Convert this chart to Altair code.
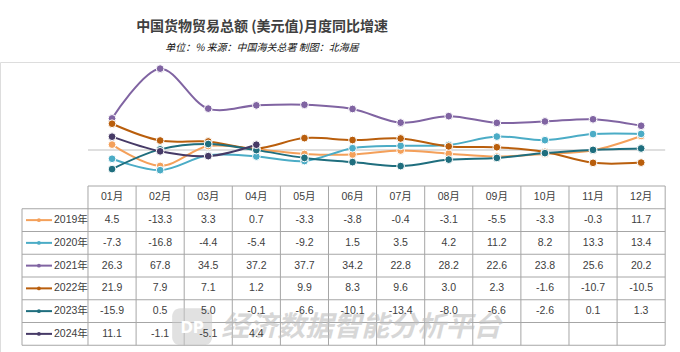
import altair as alt
import pandas as pd

months = ["01月", "02月", "03月", "04月", "05月", "06月", "07月", "08月", "09月", "10月", "11月", "12月"]
years = ["2019年", "2020年", "2021年", "2022年", "2023年", "2024年"]
v2019 = [4.5, -13.3, 3.3, 0.7, -3.3, -3.8, -0.4, -3.1, -5.5, -3.3, -0.3, 11.7]
v2020 = [-7.3, -16.8, -4.4, -5.4, -9.2, 1.5, 3.5, 4.2, 11.2, 8.2, 13.3, 13.4]
v2021 = [26.3, 67.8, 34.5, 37.2, 37.7, 34.2, 22.8, 28.2, 22.6, 23.8, 25.6, 20.2]
v2022 = [21.9, 7.9, 7.1, 1.2, 9.9, 8.3, 9.6, 3.0, 2.3, -1.6, -10.7, -10.5]
v2023 = [-15.9, 0.5, 5.0, -0.1, -6.6, -10.1, -13.4, -8.0, -6.6, -2.6, 0.1, 1.3]
v2024 = [11.1, -1.1, -5.1, 4.4]
series = [v2019, v2020, v2021, v2022, v2023, v2024]
colors = ["#F4A05A", "#4BACC6", "#8064A2", "#B95E0C", "#1F6E7E", "#463A66"]

title = "中国货物贸易总额 (美元值)月度同比增速"
subtitle = "单位：% 来源：中国海关总署 制图：北海居"
watermark = "经济数据智能分析平台"

# ---- data tables ----
rows = []
for yi, (yr, vals) in enumerate(zip(years, series)):
    for i, v in enumerate(vals):
        rows.append({"year": yr, "i": i, "v": v, "s": f"{v:.1f}", "r": yi + 1.5})
df = pd.DataFrame(rows)
header_df = pd.DataFrame({"i": list(range(12)), "month": months, "r": [0.5] * 12})

LABEL_LEFT = -1.872   # left edge of row-label column (in month-index units)
n_rows = len(years) + 1
hl_df = pd.DataFrame({
    "r": list(range(n_rows + 1)),
    "x0": [-0.5] + [LABEL_LEFT] * n_rows,
    "x1": [11.5] * (n_rows + 1),
})
vl_df = pd.DataFrame({
    "x": [LABEL_LEFT] + [k - 0.5 for k in range(13)],
    "r0": [1] + [0] * 13,
    "r1": [n_rows] * 14,
})
key_df = pd.DataFrame({"year": years, "r": [k + 1.5 for k in range(len(years))],
                       "k0": -1.789, "k1": -1.248, "kc": -1.52, "tx": -1.207})

X = alt.Scale(domain=[-2.3295, 11.808], range=[0, 680], nice=False, zero=False)
YV = alt.Scale(domain=[-20, 70], range=[112, 4], nice=False, zero=False)
YT = alt.Scale(domain=[0, 7], range=[124, 283.25], nice=False, zero=False)
C = alt.Scale(domain=years, range=colors)

FONT_NUM = "Liberation Sans Narrow, Arial Narrow, Liberation Sans, Noto Sans CJK SC, sans-serif"
FONT_CJK = "Noto Sans CJK SC, sans-serif"

# ---- line chart ----
zero = alt.Chart(pd.DataFrame({"a": [-0.5], "b": [11.5], "y": [0]})).mark_rule(
    color="#BFBFBF", strokeWidth=1
).encode(
    x=alt.X("a:Q", scale=X, axis=None), x2="b:Q",
    y=alt.Y("y:Q", scale=YV, axis=None),
)
base = alt.Chart(df).encode(
    x=alt.X("i:Q", scale=X, axis=None),
    y=alt.Y("v:Q", scale=YV, axis=None),
    color=alt.Color("year:N", scale=C, legend=None),
)
lines = base.mark_line(interpolate="catmull-rom", strokeWidth=2)
points = base.mark_circle(size=60, opacity=1, stroke="white", strokeWidth=1)
top = alt.layer(zero, lines, points)

# ---- table ----
hl = alt.Chart(hl_df).mark_rule(color="#A6A6A6", strokeWidth=1).encode(
    x=alt.X("x0:Q", scale=X, axis=None), x2="x1:Q",
    y=alt.Y("r:Q", scale=YT, axis=None),
)
vl = alt.Chart(vl_df).mark_rule(color="#A6A6A6", strokeWidth=1).encode(
    x=alt.X("x:Q", scale=X, axis=None),
    y=alt.Y("r0:Q", scale=YT, axis=None), y2="r1:Q",
)
keys = alt.Chart(key_df).mark_rule(strokeWidth=2).encode(
    x=alt.X("k0:Q", scale=X, axis=None), x2="k1:Q",
    y=alt.Y("r:Q", scale=YT, axis=None),
    color=alt.Color("year:N", scale=C, legend=None),
)
keypts = alt.Chart(key_df).mark_circle(size=14, opacity=1).encode(
    x=alt.X("kc:Q", scale=X, axis=None),
    y=alt.Y("r:Q", scale=YT, axis=None),
    color=alt.Color("year:N", scale=C, legend=None),
)
labels = alt.Chart(key_df).mark_text(align="left", baseline="middle", fontSize=10.5,
                                     font=FONT_NUM, color="#404040").encode(
    x=alt.X("tx:Q", scale=X, axis=None),
    y=alt.Y("r:Q", scale=YT, axis=None),
    text="year:N",
)
header = alt.Chart(header_df).mark_text(baseline="middle", fontSize=10.5, font=FONT_NUM,
                                        color="#404040").encode(
    x=alt.X("i:Q", scale=X, axis=None),
    y=alt.Y("r:Q", scale=YT, axis=None),
    text="month:N",
)
cells = alt.Chart(df).mark_text(baseline="middle", fontSize=10.5, font=FONT_NUM,
                                color="#404040").encode(
    x=alt.X("i:Q", scale=X, axis=None),
    y=alt.Y("r:Q", scale=YT, axis=None),
    text="s:N",
)
wm_df = pd.DataFrame({"t": [watermark], "x": [5.18], "y": [6.22],
                      "lx0": [1.25], "lx1": [2.08], "ly0": [5.37], "ly1": [7.0], "lx": [1.665], "logo": ["DP"]})
wm_logo = alt.Chart(wm_df).mark_rect(color="#C8C8C8", opacity=0.55, cornerRadius=8).encode(
    x=alt.X("lx0:Q", scale=X, axis=None), x2="lx1:Q",
    y=alt.Y("ly0:Q", scale=YT, axis=None), y2="ly1:Q",
)
wm_logo_t = alt.Chart(wm_df).mark_text(color="white", fontSize=15, fontWeight="bold",
                                       font="DejaVu Sans", baseline="middle").encode(
    x=alt.X("lx:Q", scale=X, axis=None),
    y=alt.Y("y:Q", scale=YT, axis=None),
    text="logo:N",
)
wm_text = alt.Chart(wm_df).mark_text(color="#BDBDBD", opacity=0.6, fontSize=28, fontWeight="bold",
                                     fontStyle="italic", font=FONT_CJK, baseline="middle").encode(
    x=alt.X("x:Q", scale=X, axis=None),
    y=alt.Y("y:Q", scale=YT, axis=None),
    text="t:N",
)
table = alt.layer(hl, vl, keys, keypts, wm_logo, wm_logo_t, wm_text, labels, header, cells)

chart = alt.layer(top, table).resolve_scale(y="independent").properties(
    width=680, height=290,
    autosize=alt.AutoSizeParams(type="none"),
    padding={"left": 0, "right": 0, "top": 62, "bottom": 0},
    title=alt.TitleParams(
        text=title, subtitle=subtitle, anchor="middle", frame="group", dx=-78,
        fontSize=14, fontWeight="bold", color="#404040", font=FONT_CJK,
        subtitleFontSize=10, subtitleFontStyle="italic", subtitleColor="#111111",
        subtitleFont=FONT_CJK, subtitlePadding=9, offset=9,
    ),
).configure_view(stroke=None).configure(background="white")

chart.save("out.html", embed_options={"renderer": "svg", "actions": False})
